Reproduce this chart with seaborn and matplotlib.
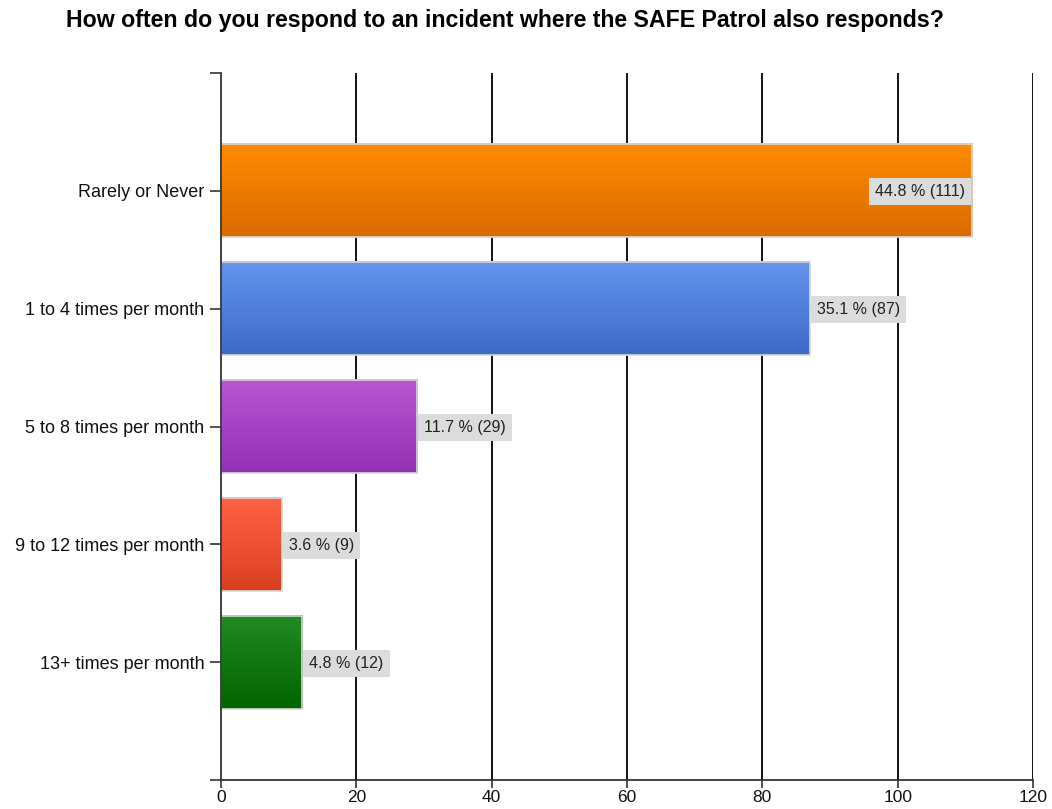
import numpy as np
import pandas as pd
import matplotlib
matplotlib.use("Agg")
import matplotlib.pyplot as plt
from matplotlib.colors import LinearSegmentedColormap
import seaborn as sns

# Survey responses
categories = ["Rarely or Never", "1 to 4 times per month", "5 to 8 times per month",
              "9 to 12 times per month", "13+ times per month"]
counts = [111, 87, 29, 9, 12]
percents = [44.8, 35.1, 11.7, 3.6, 4.8]
x_ticks = [0, 20, 40, 60, 80, 100, 120]

# Top/bottom colours of each bar's vertical gradient
top_colors = ["#FF8C00", "#6495ED", "#BA55D3", "#FF6347", "#228B22"]
bottom_colors = ["#DB6A00", "#3D6AC6", "#9430B4", "#D9401F", "#006400"]

sns.set_theme(style="white")
plt.rcParams["font.family"] = ["Liberation Sans", "DejaVu Sans"]

df = pd.DataFrame({"category": categories, "count": counts})

fig = plt.figure(figsize=(10.52, 8.09), dpi=100)
ax = fig.add_axes([221 / 1052, 1 - 780 / 809, (1033 - 221) / 1052, (780 - 73) / 809])

sns.barplot(data=df, x="count", y="category", orient="h", ax=ax,
            width=0.79, color="#FFFFFF", edgecolor="#D8D8D8", linewidth=1.2, zorder=3)

ax.set_xlim(0, 120)
ax.set_ylim(5, -1)

# Fill each bar with a vertical gradient clipped to its rectangle
for patch, c_top, c_bot in zip(ax.patches, top_colors, bottom_colors):
    x0, y0 = patch.get_x(), patch.get_y()
    w, h = patch.get_width(), patch.get_height()
    cmap = LinearSegmentedColormap.from_list("g", [c_top, c_bot])
    grad = np.linspace(0, 1, 256).reshape(-1, 1)
    ax.imshow(grad, cmap=cmap, aspect="auto", extent=(x0, x0 + w, y0 + h, y0),
              zorder=3.5, interpolation="bilinear")
    patch.set_facecolor("none")
    patch.set_zorder(4)

ax.set_xlim(0, 120)
ax.set_ylim(5, -1)

# Vertical gridlines
for xv in x_ticks[1:]:
    ax.axvline(xv, color="#000000", linewidth=1.3, zorder=1)

# Value labels on grey boxes: outside the bar end, or inside when there is no room
label_fs = 11.5
box_pad = 0.38
box = dict(boxstyle=f"square,pad={box_pad}", facecolor="#DCDCDC", edgecolor="none")
pad_px = box_pad * label_fs * 100 / 72
for i, (cnt, pct) in enumerate(zip(counts, percents)):
    label = f"{pct:.1f} % ({cnt})"
    if cnt + 16 > 120:
        ax.annotate(label, (cnt, i), xytext=(-pad_px - 1, -1), textcoords="offset pixels",
                    ha="right", va="center", fontsize=label_fs, color="#222222",
                    zorder=6, bbox=box)
    else:
        ax.annotate(label, (cnt, i), xytext=(pad_px + 1, -1), textcoords="offset pixels",
                    ha="left", va="center", fontsize=label_fs, color="#222222",
                    zorder=6, bbox=box)

ax.set_xticks(x_ticks)
ax.set_xticklabels([str(v) for v in x_ticks])
ax.set_yticks([-1, 0, 1, 2, 3, 4, 5])
ax.set_yticklabels([""] + categories + [""])
ax.set_xlabel("")
ax.set_ylabel("")

for side in ["top", "right"]:
    ax.spines[side].set_visible(False)
for side in ["left", "bottom"]:
    ax.spines[side].set_color("#333333")
    ax.spines[side].set_linewidth(1.3)
    ax.spines[side].set_zorder(5)

ax.tick_params(axis="x", which="major", bottom=True, length=6, width=1.2,
               color="#333333", labelsize=12.5, pad=1, labelcolor="#111111")
ax.tick_params(axis="y", which="major", left=True, length=8, width=1.2,
               color="#333333", labelsize=13, pad=4, labelcolor="#111111")

fig.text(66 / 1052, 1 - 21 / 809, "How often do you respond to an incident where the SAFE Patrol also responds?",
         ha="left", va="center", fontsize=16.7, fontweight="bold", color="#000000")

fig.savefig("out.png", dpi=100, facecolor="white")
